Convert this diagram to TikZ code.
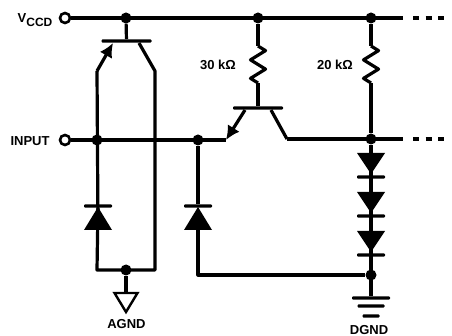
\documentclass[tikz,border=0pt]{standalone}
\usepackage{fontspec}
\setmainfont{Liberation Sans}
\usetikzlibrary{arrows.meta,shapes.geometric,decorations.pathmorphing}

\begin{document}
\begin{tikzpicture}[>={Latex[length=14pt,width=14pt]}, x=1pt, y=-1pt]

\tikzset{
    wire/.style={line width=3.2pt, line join=round},
    tail/.style={line width=3.2pt, dash pattern=on 6pt off 6.5pt},
    res/.style={wire, decorate, decoration={zigzag, segment length=18.5pt, amplitude=7.5pt}},
    dot/.style={circle, fill=black, inner sep=0pt, minimum size=11pt},
    term/.style={circle, draw=black, line width=2.6pt, fill=white, inner sep=0pt, minimum size=10pt},
    bar/.style={rectangle, fill=black, inner sep=0pt, minimum width=#1, minimum height=3.2pt, rounded corners=1pt},
    diodeup/.style={isosceles triangle, isosceles triangle stretches, shape border rotate=90, fill=black,
        inner sep=0pt, outer sep=0pt, minimum width=28pt, minimum height=23pt, anchor=apex},
    diodedown/.style={diodeup, shape border rotate=270, minimum height=21pt},
    gnd/.style={isosceles triangle, isosceles triangle stretches, shape border rotate=270, draw=black, fill=white,
        line width=2.4pt, inner sep=0pt, outer sep=0pt, minimum width=23pt, minimum height=19pt, anchor=apex},
    lbl/.style={font=\bfseries\fontsize{13}{15}\selectfont, inner sep=0pt}
}

% Background and frame of the page
\fill[white] (0,0) rectangle (452,336);

% --- TERMINALS ---
\node[term] (Vccd) at (65,18) {};
\node[term] (Input) at (65,140) {};
\node[lbl] (VccdLabel) at (35,20) {V\raisebox{-4pt}{\fontsize{12}{13}\selectfont CCD}};
\node[lbl] (InputLabel) at (30,141) {INPUT};

% --- JUNCTIONS ---
\node[dot] (TopA) at (126,18) {};
\node[dot] (TopB) at (258,18) {};
\node[dot] (TopC) at (371,18) {};
\node[dot] (InA) at (97,140) {};
\node[dot] (InB) at (198,140) {};
\node[dot] (OutC) at (371,139) {};
\node[dot] (BotA) at (126,270) {};
\node[dot] (BotC) at (371,275) {};

\coordinate (RailEnd) at (403,18);
\coordinate (OutEnd) at (403,139);
\coordinate (RailDash) at (413,18);
\coordinate (RailStop) at (447,18);
\coordinate (OutDash) at (413,139);
\coordinate (OutStop) at (447,139);

% Input transistor
\node[bar=50pt] (BaseA) at (126.5,41) {};
\coordinate (EmitA) at (113,43);
\coordinate (KneeA) at (97,71);
\coordinate (CollA) at (139,43);
\coordinate (KneeB) at (155,71);
\coordinate (CornerA) at (97,270);
\coordinate (CornerB) at (155,270);

% Output transistor
\node[bar=50pt] (BaseB) at (258,108) {};
\coordinate (EmitB) at (245,110);
\coordinate (KneeC) at (226,140);
\coordinate (CollB) at (271,110);
\coordinate (KneeD) at (287,139);
\coordinate (CornerC) at (198,275);

% Resistors
\coordinate (ResAtop) at (258,46);
\coordinate (ResAbot) at (258,83);
\coordinate (ResBtop) at (371,46);
\coordinate (ResBbot) at (371,83);
\node[lbl] (ResAlabel) at (218,65) {30 kΩ};
\node[lbl] (ResBlabel) at (335,65) {20 kΩ};

% --- DIODES ---
\node[bar=28pt] (BarA) at (98,206) {};
\node[diodeup] (DiodeA) at (98,207) {};
\node[bar=28pt] (BarB) at (198,206) {};
\node[diodeup] (DiodeB) at (198,207) {};
\node[diodedown] (DiodeC) at (371,174) {};
\node[bar=28pt] (BarC) at (371,177) {};
\node[diodedown] (DiodeD) at (371,213) {};
\node[bar=28pt] (BarD) at (371,216) {};
\node[diodedown] (DiodeE) at (371,252) {};
\node[bar=28pt] (BarE) at (371,255) {};

% --- GROUNDS ---
\node[gnd] (Agnd) at (126,312) {};
\node[lbl] (AgndLabel) at (126.5,324) {AGND};
\node[bar=38pt] (GndA) at (371,298) {};
\node[bar=27pt] (GndB) at (371,306) {};
\node[bar=17pt] (GndC) at (371,316) {};
\node[lbl] (DgndLabel) at (369,330) {DGND};

% --- WIRES ---
\draw[wire] (Vccd) -- (RailEnd);
\draw[tail] (RailDash) -- (RailStop);
\draw[wire] (Input) -- (KneeC);
\draw[wire] (KneeD) -- (OutEnd);
\draw[tail] (OutDash) -- (OutStop);

\draw[wire] (TopA) -- (BaseA);
\draw[wire] (TopB) -- (ResAtop);
\draw[res] (ResAtop) -- (ResAbot);
\draw[wire] (ResAbot) -- (BaseB);
\draw[wire] (TopC) -- (ResBtop);
\draw[res] (ResBtop) -- (ResBbot);
\draw[wire] (ResBbot) -- (OutC);

\draw[wire, ->] (KneeA) -- (EmitA);
\draw[wire] (KneeA) -- (DiodeA.south);
\draw[wire] (CollA) -- (KneeB) -- (CornerB) -- (CornerA) -- (BarA);
\draw[wire] (BotA) -- (Agnd.north);

\draw[wire, ->] (EmitB) -- (KneeC);
\draw[wire] (CollB) -- (KneeD);
\draw[wire] (InB) -- (BarB);
\draw[wire] (DiodeB) -- (CornerC) -- (BotC);
\draw[wire] (OutC) -- (GndA);

\end{tikzpicture}
\end{document}
